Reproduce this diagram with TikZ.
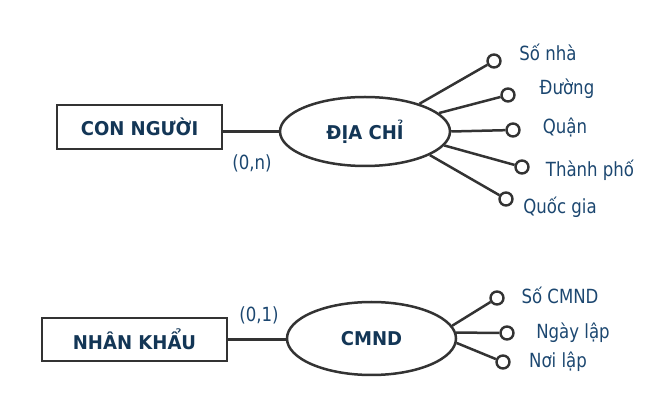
\documentclass[tikz,border=0pt]{standalone}
\usepackage{fontspec}
\setmainfont{DejaVu Sans}
\newfontfamily\lblfont[FakeStretch=0.85]{DejaVu Sans}
\newfontfamily\boldfont[FakeStretch=0.95]{DejaVu Sans Bold}
\usetikzlibrary{shapes.geometric}
\definecolor{txtblue}{HTML}{1C4770}
\definecolor{boldblue}{HTML}{133656}
\definecolor{linegray}{HTML}{333333}
\tikzset{
  entity/.style={draw=linegray, line width=2.9pt, minimum width=165pt, minimum height=44pt, inner sep=0pt,
    font=\boldfont\fontsize{19}{22}\selectfont, text=boldblue},
  attrell/.style={ellipse, draw=linegray, line width=2.5pt, inner sep=0pt,
    font=\boldfont\fontsize{19}{22}\selectfont, text=boldblue},
  endpt/.style={circle, draw=linegray, line width=2.4pt, fill=white, minimum size=13pt, inner sep=0pt},
  lbl/.style={font=\lblfont\fontsize{19.5}{22}\selectfont, text=txtblue, inner sep=0pt},
  conn/.style={draw=linegray, line width=2.5pt},
}
\begin{document}
\begin{tikzpicture}[x=1pt,y=-1pt]
\useasboundingbox (0,0) rectangle (656,411);
% upper part
\node[entity] (cn) at (139.5,127) {CON NGƯỜI};
\node[attrell, minimum width=170pt, minimum height=69pt] (dc) at (365,131.5) {ĐỊA CHỈ};
\node[endpt] (p1) at (494,61) {};
\node[endpt] (p2) at (508,95) {};
\node[endpt] (p3) at (513,130) {};
\node[endpt] (p4) at (522,167) {};
\node[endpt] (p5) at (506,199) {};
\node[lbl] (l1) at (548,52) {Số nhà};
\node[lbl] (l2) at (567,89) {Đường};
\node[lbl] (l3) at (565,127) {Quận};
\node[lbl] (l4) at (590,170) {Thành phố};
\node[lbl] (l5) at (560,207) {Quốc gia};
\node[lbl] (cardn) at (252,163) {(0,n)};
\draw[conn] (dc.west -| cn.east) -- (dc.west);
\draw[conn] (dc.27) -- (p1);
\draw[conn] (dc.14) -- (p2);
\draw[conn] (dc.east) -- (p3);
\draw[conn] (dc.-10) -- (p4);
\draw[conn] (dc.-20) -- (p5);
% lower part
\node[entity, minimum width=185pt, minimum height=43pt] (nk) at (134.5,339.5) {NHÂN KHẨU};
\node[attrell, minimum width=169pt, minimum height=73pt] (cm) at (371.5,338.5) {CMND};
\node[endpt] (q1) at (497,298) {};
\node[endpt] (q2) at (507,333) {};
\node[endpt] (q3) at (503,362) {};
\node[lbl] (m1) at (560,295) {Số CMND};
\node[lbl] (m2) at (573,333) {Ngày lập};
\node[lbl] (m3) at (558,362) {Nơi lập};
\node[lbl] (card1) at (259,315) {(0,1)};
\draw[conn] (nk.east) -- (nk.east -| cm.west);
\draw[conn] (cm.9) -- (q1);
\draw[conn] (cm.4) -- (q2);
\draw[conn] (cm.-3) -- (q3);
\end{tikzpicture}
\end{document}
